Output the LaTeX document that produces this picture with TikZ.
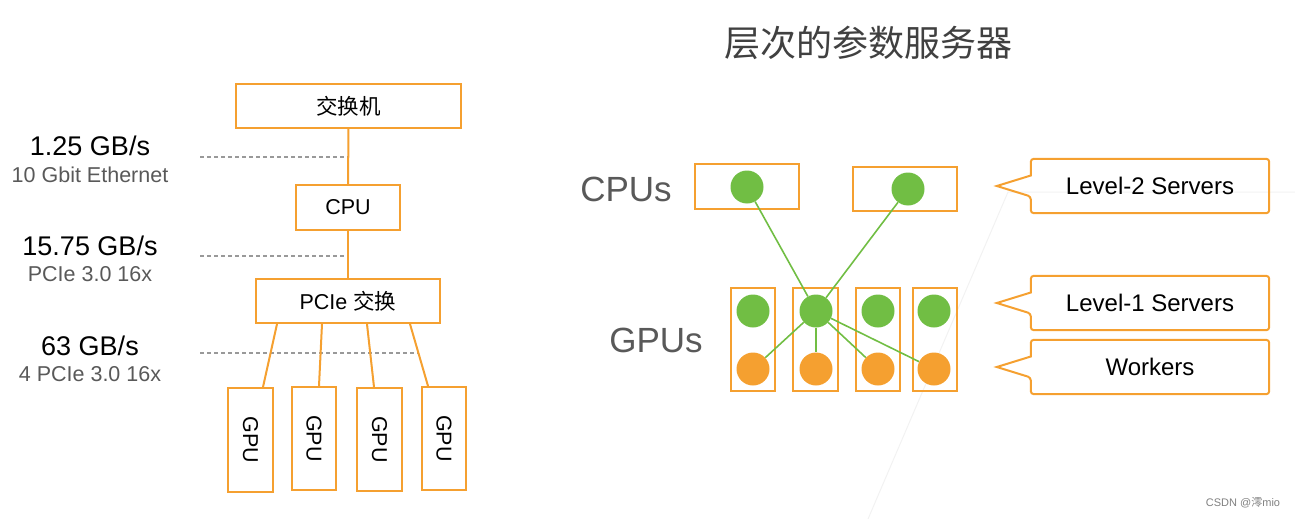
\documentclass[tikz,border=0pt]{standalone}
\usepackage{fontspec}
\usepackage{graphicx}
\setmainfont{Liberation Sans}
\newfontfamily\cjk{Noto Sans CJK SC}
\definecolor{boxorange}{RGB}{245,160,48}
\definecolor{dotgreen}{RGB}{113,190,68}
\definecolor{labelgray}{RGB}{89,89,89}
\definecolor{titlegray}{RGB}{64,64,64}

\begin{document}
\begin{tikzpicture}[x=1pt,y=-1pt,
    box/.style={draw=boxorange,line width=2pt,inner sep=0pt,font=\fontsize{21.5}{25}\selectfont},
    gpu box/.style={box,minimum width=44pt,minimum height=103pt},
    slot/.style={draw=boxorange,line width=2pt,inner sep=0pt},
    dot/.style={circle,inner sep=0pt,minimum size=33pt},
    link/.style={draw=boxorange,line width=2pt},
    glink/.style={draw=dotgreen,line width=1.6pt},
    rate/.style={font=\fontsize{27}{30}\selectfont},
    sub/.style={font=\fontsize{21.5}{24}\selectfont,text=labelgray},
    level/.style={draw=gray!80,line width=1.6pt,dash pattern=on 4pt off 3pt},
    tag/.style={font=\fontsize{35}{40}\selectfont,text=labelgray},
    callout/.style={draw=boxorange,line width=2pt,rounded corners=3pt},
    note/.style={inner sep=0pt,minimum width=238pt,minimum height=54pt,font=\fontsize{24}{28}\selectfont}]
    \useasboundingbox (0,0) rectangle (1295,519);
    % faint slide decoration
    \draw[gray!10,line width=1pt] (868,519) -- (1008,192) -- (1295,192);

    % left: bandwidth hierarchy
    \node[box,minimum width=225pt,minimum height=44pt] (sw) at (348.5,106) {\cjk 交换机};
    \node[box,minimum width=104pt,minimum height=45pt] (cpu) at (348,207.5) {CPU};
    \node[box,minimum width=184pt,minimum height=44pt] (pcie) at (348,301) {PCIe {\cjk 交换}};
    \node[gpu box,minimum width=45pt,minimum height=104pt] (gpu1) at (250.5,440) {\rotatebox{-90}{GPU}};
    \node[gpu box] (gpu2) at (314,438.5) {\rotatebox{-90}{GPU}};
    \node[gpu box,minimum width=45pt] (gpu3) at (379.5,439.5) {\rotatebox{-90}{GPU}};
    \node[gpu box] (gpu4) at (444,438.5) {\rotatebox{-90}{GPU}};

    \coordinate (lv1) at (200,157);
    \coordinate (lv2) at (200,256);
    \coordinate (lv3) at (200,353);
    \draw[level] (lv1) -- (lv1 -| sw.south);
    \draw[level] (lv2) -- (lv2 -| sw.south);
    \draw[level] (lv3) -- ++(218,0);

    \path[link] (sw) edge (cpu) (cpu) edge (pcie);
    \draw[link] ([xshift=22pt]pcie.south west) -- ([xshift=12.5pt]gpu1.north);
    \draw[link] ([xshift=67pt]pcie.south west) -- ([xshift=5pt]gpu2.north);
    \draw[link] ([xshift=112pt]pcie.south west) -- ([xshift=-5.5pt]gpu3.north);
    \draw[link] ([xshift=155pt]pcie.south west) -- ([xshift=-16pt]gpu4.north);

    \node[rate] (r1) at (90,146) {1.25 GB/s};
    \node[sub] (s1) at (90,175) {10 Gbit Ethernet};
    \node[rate] (r2) at (90,246) {15.75 GB/s};
    \node[sub] (s2) at (90,274) {PCIe 3.0 16x};
    \node[rate] (r3) at (90,346) {63 GB/s};
    \node[sub] (s3) at (90,374) {4 PCIe 3.0 16x};

    % right: hierarchical parameter server
    \node[font=\cjk\fontsize{36}{40}\selectfont,text=titlegray] (title) at (868,43) {层次的参数服务器};
    \node[tag] (cpus) at (626,189) {CPUs};
    \node[tag] (gpus) at (656,340) {GPUs};

    \node[slot,minimum width=104pt,minimum height=45pt] (cb1) at (747,186.5) {};
    \node[slot,minimum width=104pt,minimum height=44pt] (cb2) at (905,189) {};
    \node[slot,minimum width=44pt,minimum height=103pt] (gb1) at (753,339.5) {};
    \node[slot,minimum width=45pt,minimum height=103pt] (gb2) at (815.5,339.5) {};
    \node[slot,minimum width=44pt,minimum height=103pt] (gb3) at (878,339.5) {};
    \node[slot,minimum width=44pt,minimum height=103pt] (gb4) at (935,339.5) {};

    \node[dot,fill=dotgreen] (c1) at (747,187) {};
    \node[dot,fill=dotgreen] (c2) at (908,189) {};
    \foreach \i/\x in {1/753,2/816,3/878,4/934}{
        \node[dot,fill=dotgreen] (s\i) at (\x,311) {};
        \node[dot,fill=boxorange] (w\i) at (\x,369) {};
    }
    \path[glink]
        (c1) edge (s2)
        (c2) edge (s2)
        (s2) edge (w1)
        (s2) edge (w2)
        (s2) edge (w3)
        (s2) edge (w4);

    \node[note] (l2) at (1150,186) {Level-2 Servers};
    \node[note] (l1) at (1150,303) {Level-1 Servers};
    \node[note] (wk) at (1150,367) {Workers};
    \foreach \n in {l2,l1,wk}{
        \draw[callout] ([yshift=10.5pt]\n.west) |- (\n.north east) |- (\n.south west)
            -- ([yshift=-10.5pt]\n.west) [sharp corners] -- ([xshift=-34pt]\n.west) -- cycle;
    }

    \node[font=\fontsize{11}{13}\selectfont,text=gray] (mark) at (1243,503) {CSDN @{\cjk 澪}mio};
\end{tikzpicture}
\end{document}
